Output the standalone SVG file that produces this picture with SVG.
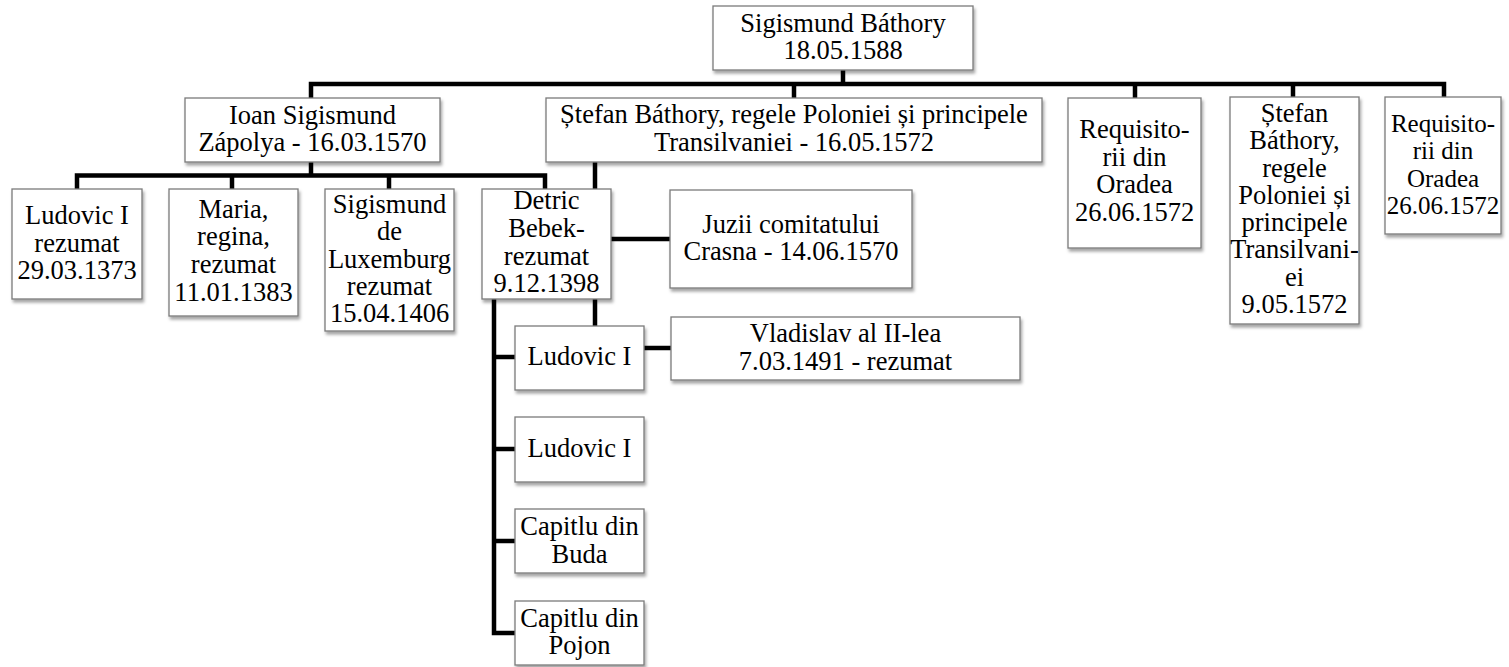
<svg xmlns="http://www.w3.org/2000/svg" width="1509" height="667" viewBox="0 0 1509 667">
<defs>
<filter id="sh" x="-10%" y="-10%" width="130%" height="130%">
<feDropShadow dx="1.5" dy="3" stdDeviation="1.5" flood-color="#000" flood-opacity="0.35"/>
</filter>
</defs>
<style>
.box{fill:#fff;stroke:#7a7a7a;stroke-width:1.3;filter:url(#sh)}
.t{font-family:"Liberation Serif","Times New Roman",serif;font-size:26.5px;fill:#000;text-anchor:middle}
.s{font-size:25px}
.c{fill:none;stroke:#000;stroke-width:4.5;stroke-linejoin:miter;stroke-linecap:butt}
</style>
<rect width="1509" height="667" fill="#fff"/>
<g id="connectors">
<path class="c" d="M843,70 V84"/>
<path class="c" d="M311,98 V84 H1444 V97"/>
<path class="c" d="M794,84 V98"/>
<path class="c" d="M1135,84 V98"/>
<path class="c" d="M1293,84 V97"/>
<path class="c" d="M311,162 V175.5"/>
<path class="c" d="M77,189 V175.5 H545 V189"/>
<path class="c" d="M232,175.5 V189"/>
<path class="c" d="M389,175.5 V189"/>
<path class="c" d="M595,162 V189"/>
<path class="c" d="M611,239 H670"/>
<path class="c" d="M595,299 V326"/>
<path class="c" d="M494,299 V633 H515"/>
<path class="c" d="M494,357 H515"/>
<path class="c" d="M494,449 H515"/>
<path class="c" d="M494,541 H515"/>
<path class="c" d="M644,348 H671"/>
</g>
<g id="root"><rect class="box" x="713" y="6" width="260" height="64"/>
<text class="t"><tspan x="843" y="32">Sigismund Báthory</tspan><tspan x="843" y="59">18.05.1588</tspan></text></g>
<g id="ioan"><rect class="box" x="185" y="98" width="255" height="64"/>
<text class="t"><tspan x="312.5" y="124">Ioan Sigismund</tspan><tspan x="312.5" y="151">Zápolya - 16.03.1570</tspan></text></g>
<g id="stefan1"><rect class="box" x="546" y="98" width="496" height="64"/>
<text class="t"><tspan x="794" y="123">Ștefan Báthory, regele Poloniei și principele</tspan><tspan x="794" y="151">Transilvaniei - 16.05.1572</tspan></text></g>
<g id="requisitori1"><rect class="box" x="1068" y="98" width="133" height="150"/>
<text class="t"><tspan x="1134.5" y="138">Requisito-</tspan><tspan x="1134.5" y="166">rii din</tspan><tspan x="1134.5" y="193">Oradea</tspan><tspan x="1134.5" y="221">26.06.1572</tspan></text></g>
<g id="stefan2"><rect class="box" x="1230" y="97" width="129" height="227"/>
<text class="t"><tspan x="1294.5" y="122">Ștefan</tspan><tspan x="1294.5" y="149">Báthory,</tspan><tspan x="1294.5" y="177">regele</tspan><tspan x="1294.5" y="204">Poloniei și</tspan><tspan x="1294.5" y="231">principele</tspan><tspan x="1294.5" y="258">Transilvani-</tspan><tspan x="1294.5" y="286">ei</tspan><tspan x="1294.5" y="313">9.05.1572</tspan></text></g>
<g id="requisitori2"><rect class="box" x="1385" y="97" width="116" height="137"/>
<text class="t s"><tspan x="1443" y="132">Requisito-</tspan><tspan x="1443" y="159">rii din</tspan><tspan x="1443" y="187">Oradea</tspan><tspan x="1443" y="214">26.06.1572</tspan></text></g>
<g id="ludovic-rezumat"><rect class="box" x="12" y="189" width="130" height="110"/>
<text class="t"><tspan x="77" y="224">Ludovic I</tspan><tspan x="77" y="252">rezumat</tspan><tspan x="77" y="279">29.03.1373</tspan></text></g>
<g id="maria"><rect class="box" x="169" y="189" width="129" height="127"/>
<text class="t"><tspan x="233.5" y="218">Maria,</tspan><tspan x="233.5" y="245">regina,</tspan><tspan x="233.5" y="273">rezumat</tspan><tspan x="233.5" y="301">11.01.1383</tspan></text></g>
<g id="sigismund-lux"><rect class="box" x="325" y="189" width="129" height="142"/>
<text class="t"><tspan x="389.5" y="213">Sigismund</tspan><tspan x="389.5" y="240">de</tspan><tspan x="389.5" y="268">Luxemburg</tspan><tspan x="389.5" y="295">rezumat</tspan><tspan x="389.5" y="322">15.04.1406</tspan></text></g>
<g id="detric"><rect class="box" x="482" y="189" width="129" height="110"/>
<text class="t"><tspan x="546.5" y="209">Detric</tspan><tspan x="546.5" y="237">Bebek-</tspan><tspan x="546.5" y="265">rezumat</tspan><tspan x="546.5" y="292">9.12.1398</tspan></text></g>
<g id="juzii"><rect class="box" x="670" y="190" width="242" height="98"/>
<text class="t"><tspan x="791" y="233">Juzii comitatului</tspan><tspan x="791" y="260">Crasna - 14.06.1570</tspan></text></g>
<g id="ludovic1"><rect class="box" x="515" y="326" width="129" height="64"/>
<text class="t"><tspan x="579.5" y="365">Ludovic I</tspan></text></g>
<g id="vladislav"><rect class="box" x="671" y="317" width="349" height="63"/>
<text class="t"><tspan x="845.5" y="342">Vladislav al II-lea</tspan><tspan x="845.5" y="370">7.03.1491 - rezumat</tspan></text></g>
<g id="ludovic2"><rect class="box" x="515" y="417" width="129" height="65"/>
<text class="t"><tspan x="579.5" y="457">Ludovic I</tspan></text></g>
<g id="capitlu-buda"><rect class="box" x="515" y="509" width="129" height="64"/>
<text class="t"><tspan x="579.5" y="535">Capitlu din</tspan><tspan x="579.5" y="563">Buda</tspan></text></g>
<g id="capitlu-pojon"><rect class="box" x="515" y="601" width="129" height="64"/>
<text class="t"><tspan x="579.5" y="627">Capitlu din</tspan><tspan x="579.5" y="654">Pojon</tspan></text></g>
</svg>
